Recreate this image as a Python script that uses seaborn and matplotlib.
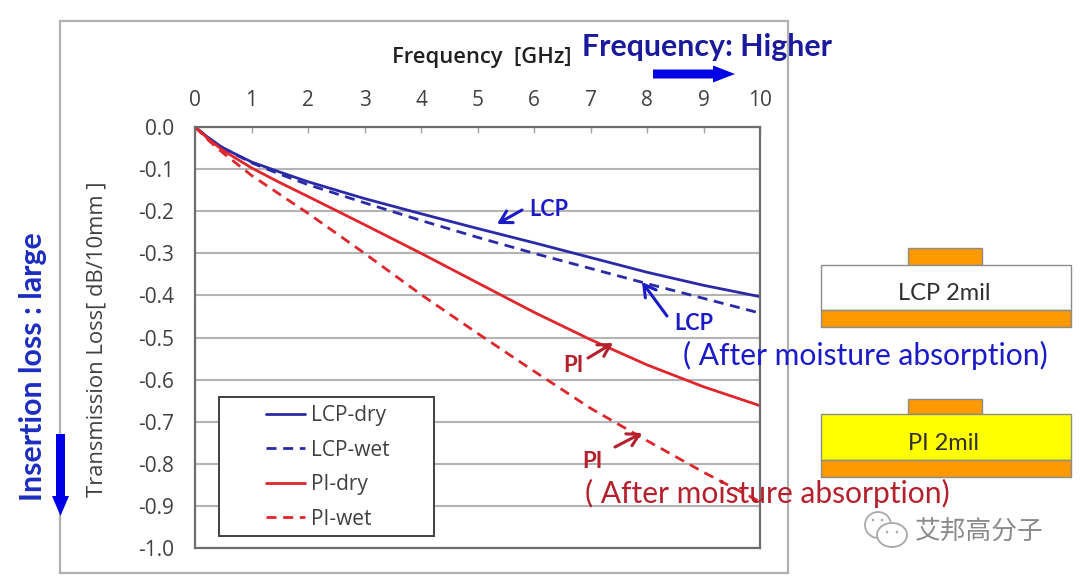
import matplotlib
matplotlib.use("Agg")
import matplotlib.pyplot as plt
import numpy as np
import pandas as pd
import seaborn as sns
from matplotlib.patches import Circle, Ellipse, FancyArrow, Rectangle

WIDTH, HEIGHT = 1080, 578

freq = [0, 0.25, 0.5, 1, 1.5, 2, 3, 4, 5, 6, 7, 8, 9, 10]
lcp_dry = [0, -0.027, -0.05, -0.083, -0.107, -0.13, -0.17, -0.206, -0.241, -0.275, -0.31, -0.345, -0.376, -0.403]
lcp_wet = [0, -0.027, -0.05, -0.085, -0.112, -0.137, -0.18, -0.222, -0.262, -0.3, -0.336, -0.372, -0.407, -0.442]
pi_dry = [0, -0.03, -0.056, -0.097, -0.132, -0.165, -0.232, -0.3, -0.37, -0.44, -0.505, -0.565, -0.617, -0.662]
pi_wet = [0, -0.033, -0.062, -0.115, -0.16, -0.205, -0.3, -0.398, -0.49, -0.58, -0.668, -0.745, -0.82, -0.89]
series_names = ["LCP-dry", "LCP-wet", "PI-dry", "PI-wet"]
x_ticks = list(range(11))
y_ticks = [0.0, -0.1, -0.2, -0.3, -0.4, -0.5, -0.6, -0.7, -0.8, -0.9, -1.0]

BLUE = "#2a2aa8"
RED = "#e0262c"
NOTE_BLUE = "#1a1ac8"
NOTE_RED = "#b4202c"
ARROW_BLUE = "#0000e6"
ORANGE = "#ff9900"
EDGE = "#8c8c8c"
TICK_TEXT = "#404040"


def px_axes(fig, left, top, right, bottom):
    return fig.add_axes([
        left / WIDTH,
        1 - bottom / HEIGHT,
        (right - left) / WIDTH,
        (bottom - top) / HEIGHT,
    ])


def draw_stack(ov, top_y, bar_y, low_y, end_y, fill, label):
    ov.add_patch(Rectangle((908, top_y), 74, bar_y - top_y, fc=ORANGE, ec=EDGE, lw=1))
    ov.add_patch(Rectangle((821, bar_y), 250, low_y - bar_y, fc=fill, ec=EDGE, lw=1))
    ov.add_patch(Rectangle((821, low_y), 250, end_y - low_y, fc=ORANGE, ec=EDGE, lw=1))
    ov.text(944, (bar_y + low_y) / 2 + 6, label, ha="center", va="center",
            fontsize=17, color="#303030", family="Lato")


def draw_note_arrow(ov, tail, tip, color):
    ov.annotate("", xy=tip, xytext=tail,
                arrowprops=dict(arrowstyle="->,head_length=0.7,head_width=0.4",
                                color=color, lw=2.2, shrinkA=0, shrinkB=0))


def draw_wechat_icon(ov):
    for center, radii in [((878, 525), (13, 13)), ((892, 535), (15, 12))]:
        ov.add_patch(Ellipse(center, radii[0] * 2, radii[1] * 2, fc="white", ec="#a8a8a8", lw=1.3))
    for spot in [(873, 520), (882, 520), (887, 532), (897, 532)]:
        ov.add_patch(Circle(spot, 1.3, fc="#a8a8a8", ec="none"))


def main():
    sns.set_theme(style="white")
    plt.rcParams["font.family"] = ["Open Sans", "DejaVu Sans"]

    frame = pd.DataFrame({
        "freq": freq * 4,
        "loss": lcp_dry + lcp_wet + pi_dry + pi_wet,
        "series": np.repeat(series_names, len(freq)),
    })

    fig = plt.figure(figsize=(WIDTH / 100, HEIGHT / 100), dpi=100, facecolor="white")
    ax = px_axes(fig, 195, 127, 760, 548)
    sns.lineplot(
        data=frame, x="freq", y="loss", hue="series", style="series",
        palette={"LCP-dry": BLUE, "LCP-wet": BLUE, "PI-dry": RED, "PI-wet": RED},
        dashes={"LCP-dry": "", "LCP-wet": (3.6, 2.4), "PI-dry": "", "PI-wet": (3.6, 2.4)},
        linewidth=2, ax=ax,
    )
    ax.set_xlim(0, 10)
    ax.set_ylim(-1.0, 0.0)
    ax.set_xlabel("")
    ax.set_ylabel("")
    ax.xaxis.tick_top()
    ax.set_xticks(x_ticks)
    ax.set_yticks(y_ticks)
    ax.set_yticklabels([f"{v:.1f}" for v in y_ticks])
    ax.tick_params(axis="x", direction="in", length=4, width=1, color="#a0a0a0",
                   labelsize=15, labelcolor=TICK_TEXT, pad=11.5)
    ax.tick_params(axis="y", direction="out", length=5, width=1.5, color="#b4b4b4",
                   labelsize=15, labelcolor=TICK_TEXT, pad=10)
    ax.grid(axis="y", color="#b4b4b4", lw=1.5)
    ax.set_axisbelow(True)
    for spine in ax.spines.values():
        spine.set_visible(True)
        spine.set_color("#6e6e6e")
        spine.set_linewidth(1.6)

    # legend sits on its own white box over the gridlines
    ax.add_patch(Rectangle((24 / 565, 12 / 421), 215 / 565, 139 / 421, transform=ax.transAxes,
                           fc="white", ec="#404040", lw=1.4, zorder=4))
    handles, labels = ax.get_legend_handles_labels()
    legend = ax.legend(handles, labels, loc="lower left", bbox_to_anchor=(60.6 / 565, 8 / 421),
                       frameon=False, labelcolor="#404040", handlelength=1.87,
                       handletextpad=0.3, labelspacing=0.65, borderaxespad=0, borderpad=0.5,
                       prop={"family": "Open Sans", "size": 15})
    legend.set_zorder(5)

    ov = px_axes(fig, 0, 0, WIDTH, HEIGHT)
    ov.set_xlim(0, WIDTH)
    ov.set_ylim(HEIGHT, 0)
    ov.axis("off")
    ov.patch.set_visible(False)

    ov.add_patch(Rectangle((60, 21), 728, 552, fc="none", ec="#b0b0b0", lw=1.6))

    ov.text(482, 58, "Frequency  [GHz]", ha="center", va="center", fontsize=15.8,
            fontweight="semibold", color="#202020")
    ov.text(97, 339, "Transmission Loss[ dB/10mm ]", rotation=90, ha="center", va="center",
            fontsize=15.8, color="#404040")
    ov.text(33, 367, "Insertion loss : large", rotation=90, ha="center", va="center",
            fontsize=21.8, fontweight="bold", color="#1c2cc0", family="Lato")
    ov.text(582, 47, "Frequency: Higher", ha="left", va="center", fontsize=21.8,
            fontweight="bold", color="#1a1a9c", family="Lato")

    ov.add_patch(FancyArrow(653, 74, 82, 0, width=9, head_width=17, head_length=22,
                            length_includes_head=True, fc=ARROW_BLUE, ec="none"))
    ov.add_patch(FancyArrow(60.5, 434, 0, 82, width=9, head_width=17, head_length=20,
                            length_includes_head=True, fc=ARROW_BLUE, ec="none"))

    ov.text(529, 210, "LCP", ha="left", va="center", fontsize=15.5, fontweight="bold",
            color=NOTE_BLUE, family="Lato")
    ov.text(674, 324, "LCP", ha="left", va="center", fontsize=15.5, fontweight="bold",
            color=NOTE_BLUE, family="Lato")
    ov.text(563, 365, "PI", ha="left", va="center", fontsize=16, fontweight="bold",
            color=NOTE_RED, family="Lato")
    ov.text(582, 462, "PI", ha="left", va="center", fontsize=16, fontweight="bold",
            color=NOTE_RED, family="Lato")
    draw_note_arrow(ov, (522, 210), (497, 224), NOTE_BLUE)
    draw_note_arrow(ov, (667, 316), (642, 282), NOTE_BLUE)
    draw_note_arrow(ov, (588, 358), (613, 343), NOTE_RED)
    draw_note_arrow(ov, (615, 447), (642, 433), NOTE_RED)

    ov.text(683, 355, "( After moisture absorption)", ha="left", va="center", fontsize=21.6,
            color=NOTE_BLUE, family="Lato")
    ov.text(585, 493, "( After moisture absorption)", ha="left", va="center", fontsize=21.6,
            color=NOTE_RED, family="Lato")

    draw_stack(ov, 248, 265, 310, 327, "white", "LCP 2mil")
    draw_stack(ov, 399, 414, 460, 477, "#ffff00", "PI 2mil")

    draw_wechat_icon(ov)
    ov.text(915, 533, "艾邦高分子", ha="left", va="center", fontsize=18.5, color="#8a8a8a",
            family=["Noto Sans CJK SC", "DejaVu Sans"])

    fig.savefig("out.png", dpi=100)
    plt.close(fig)


if __name__ == "__main__":
    main()
